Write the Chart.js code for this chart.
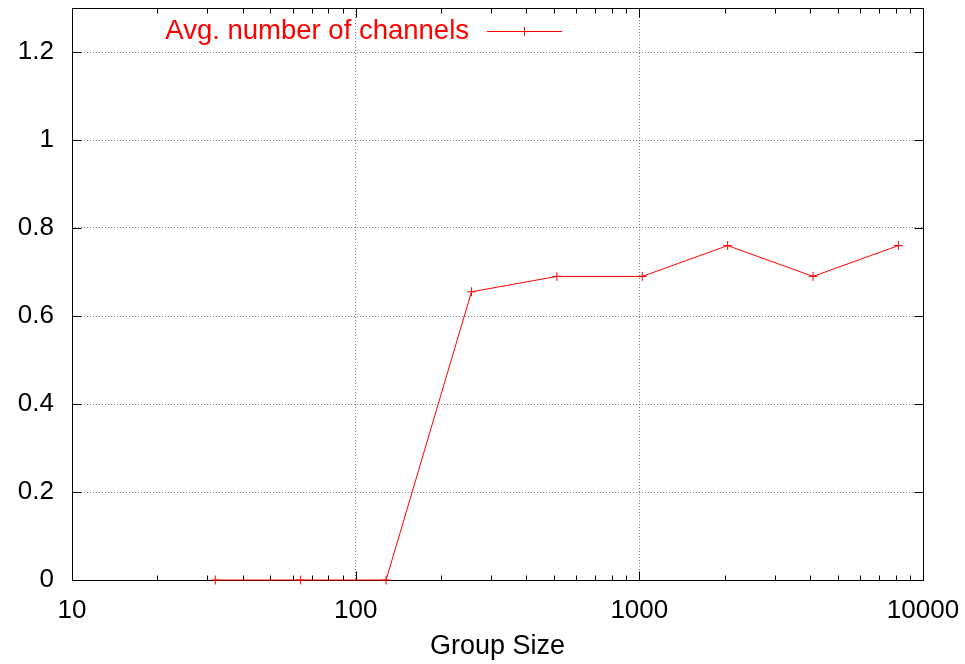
<!DOCTYPE html>
<html>
<head>
<meta charset="utf-8">
<script src="https://cdn.jsdelivr.net/npm/chart.js@4/dist/chart.umd.min.js"></script>
<style>
html,body{margin:0;padding:0;background:#fff;}
#wrap{width:965px;height:664px;position:relative;}
</style>
</head>
<body>
<div id="wrap"><canvas id="c"></canvas></div>
<script>
const groupSizes = [32, 64, 128, 256, 512, 1024, 2048, 4096, 8192];
const avgChannels = [0, 0, 0, 0.655, 0.69, 0.69, 0.76, 0.69, 0.76];
const xTickValues = [10, 100, 1000, 10000];
const yTickValues = [0, 0.2, 0.4, 0.6, 0.8, 1, 1.2];
const seriesLabel = 'Avg. number of channels';
const xTitle = 'Group Size';

const FONT = '"Liberation Sans", Arial, Helvetica, sans-serif';

const framePlugin = {
  id: 'frame',
  beforeDatasetsDraw(chart) {
    const {ctx, chartArea: a, scales: {x, y}} = chart;
    ctx.save();
    ctx.strokeStyle = '#000';
    ctx.lineWidth = 1;
    const L = Math.round(a.left) + 0.5, R = Math.round(a.right) + 0.5;
    const T = Math.round(a.top) + 0.5, B = Math.round(a.bottom) + 0.5;
    ctx.beginPath();
    for (let d = 10; d <= 10000; d *= 10) {
      const px = Math.round(x.getPixelForValue(d)) + 0.5;
      ctx.moveTo(px, B); ctx.lineTo(px, B - 9);
      ctx.moveTo(px, T); ctx.lineTo(px, T + 9);
      if (d < 10000) {
        for (let k = 2; k <= 9; k++) {
          const mx = Math.round(x.getPixelForValue(k * d)) + 0.5;
          ctx.moveTo(mx, B); ctx.lineTo(mx, B - 5);
          ctx.moveTo(mx, T); ctx.lineTo(mx, T + 5);
        }
      }
    }
    yTickValues.forEach(v => {
      const py = Math.round(y.getPixelForValue(v)) + 0.5;
      ctx.moveTo(L, py); ctx.lineTo(L + 9, py);
      ctx.moveTo(R, py); ctx.lineTo(R - 9, py);
    });
    ctx.stroke();
    ctx.strokeRect(L, T, R - L, B - T);
    ctx.restore();
  },
  afterDatasetsDraw(chart) {
    const {ctx, chartArea: a} = chart;
    ctx.save();
    const ly = a.top + 23;
    ctx.font = '27.5px ' + FONT;
    ctx.fillStyle = '#ff0000';
    ctx.textAlign = 'right';
    ctx.textBaseline = 'middle';
    ctx.fillText(seriesLabel, a.left + 397, ly);
    ctx.strokeStyle = '#ff0000';
    ctx.lineWidth = 1;
    const x0 = a.left + 415, x1 = a.left + 490, xm = a.left + 452;
    const yy = Math.round(ly) + 0.5;
    ctx.beginPath();
    ctx.moveTo(x0, yy); ctx.lineTo(x1, yy);
    ctx.moveTo(xm + 0.5, ly - 4); ctx.lineTo(xm + 0.5, ly + 5);
    ctx.stroke();
    ctx.restore();
  }
};

new Chart(document.getElementById('c'), {
  type: 'line',
  data: {
    datasets: [{
      label: seriesLabel,
      data: groupSizes.map((g, i) => ({x: g, y: avgChannels[i]})),
      borderColor: '#ff0000',
      backgroundColor: '#ff0000',
      borderWidth: 1,
      pointStyle: 'cross',
      pointRadius: 4.5,
      pointBorderWidth: 1,
      pointHoverRadius: 4.5,
      tension: 0,
      fill: false,
      clip: false
    }]
  },
  options: {
    responsive: true,
    maintainAspectRatio: false,
    animation: false,
    events: [],
    layout: {padding: {top: 8, right: 42, left: 0, bottom: 0}},
    plugins: {legend: {display: false}, tooltip: {enabled: false}},
    scales: {
      x: {
        type: 'logarithmic',
        min: 10, max: 10000,
        afterBuildTicks: s => { s.ticks = xTickValues.map(v => ({value: v})); },
        afterFit: s => { s.height = 84; s.paddingLeft = 0; s.paddingRight = 0; },
        border: {display: false, dash: [1, 2]},
        grid: {color: '#808080', lineWidth: 1, drawTicks: false},
        ticks: {
          color: '#000', padding: 15, maxRotation: 0, autoSkip: false,
          font: {family: FONT, size: 26},
          callback: v => String(v)
        },
        title: {display: true, text: xTitle, color: '#000', font: {family: FONT, size: 27}, padding: {top: 0, bottom: 1}}
      },
      y: {
        type: 'linear',
        min: 0, max: 1.3,
        afterBuildTicks: s => { s.ticks = yTickValues.map(v => ({value: v})); },
        afterFit: s => { s.width = 72; s.paddingTop = 0; s.paddingBottom = 0; },
        border: {display: false, dash: [1, 2]},
        grid: {color: '#808080', lineWidth: 1, drawTicks: false},
        ticks: {
          color: '#000', padding: 18,
          font: {family: FONT, size: 26},
          callback: v => String(Math.round(v * 10) / 10)
        }
      }
    }
  },
  plugins: [framePlugin]
});
</script>
</body>
</html>
